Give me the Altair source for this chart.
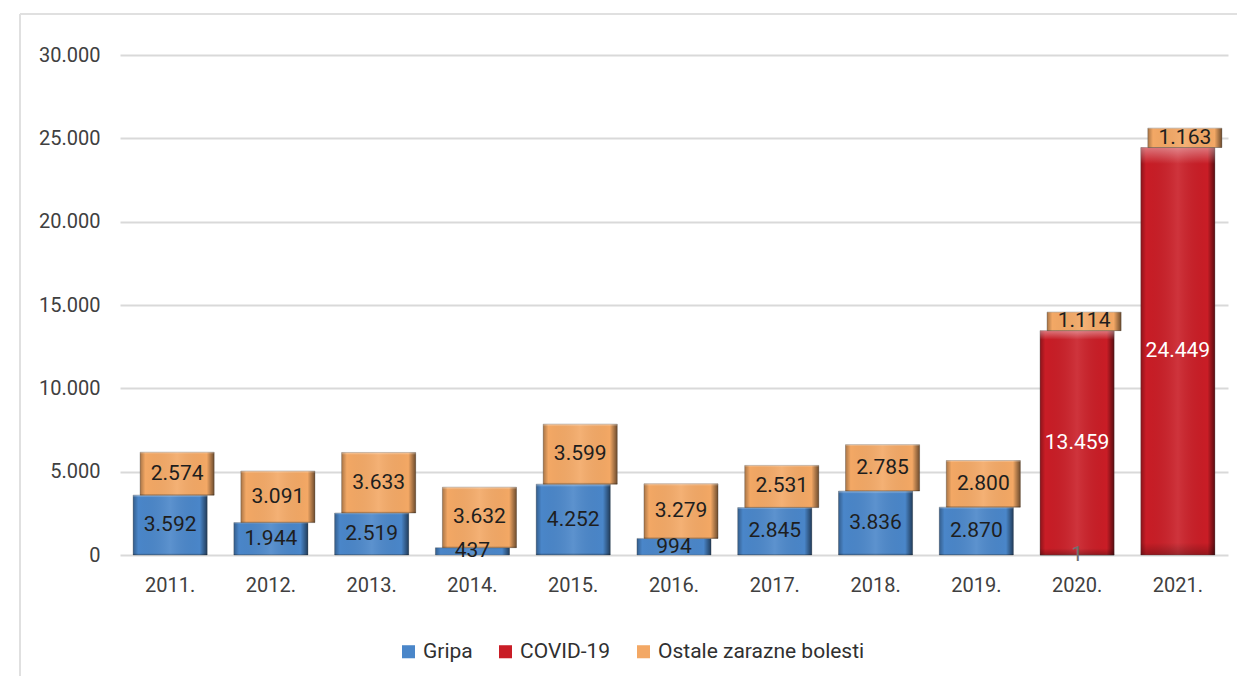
import altair as alt
import pandas as pd

years = ["2011.", "2012.", "2013.", "2014.", "2015.", "2016.", "2017.", "2018.", "2019.", "2020.", "2021."]
gripa = [3592, 1944, 2519, 437, 4252, 994, 2845, 3836, 2870, 1, 0]
covid = [0, 0, 0, 0, 0, 0, 0, 0, 0, 13459, 24449]
ostale = [2574, 3091, 3633, 3632, 3599, 3279, 2531, 2785, 2800, 1114, 1163]

series_names = ["Gripa", "COVID-19", "Ostale zarazne bolesti"]
series_colors = ["#4a86c9", "#c91d26", "#f3a865"]
label_colors = ["#1e1e1e", "white", "#1e1e1e"]

rows = []
for i, y in enumerate(years):
    base = 0
    for name, vals in zip(series_names, [gripa, covid, ostale]):
        v = vals[i]
        if v > 0:
            rows.append({
                "year": y, "series": name, "value": v,
                "start": base, "end": base + v, "mid": base + v / 2,
                "label": f"{v:,}".replace(",", "."),
            })
        base += v
df = pd.DataFrame(rows)

FONT = "Roboto"
xscale = alt.Scale(paddingInner=0.265, paddingOuter=0.13)
xenc = alt.X("year:N", sort=years, scale=xscale,
             axis=alt.Axis(title=None, labelAngle=0, labelFontSize=20, labelColor="#404040",
                           labelFont=FONT, ticks=False, domain=False, labelPadding=20, grid=False))
yenc = alt.Y("start:Q", scale=alt.Scale(domain=[0, 30000]),
             axis=alt.Axis(title=None, values=[0, 5000, 10000, 15000, 20000, 25000, 30000],
                           labelExpr="replace(format(datum.value, ','), ',', '.')",
                           labelFontSize=20, labelColor="#404040", labelFont=FONT,
                           ticks=False, domain=False, gridColor="#d9d9d9", gridWidth=2,
                           labelPadding=20))
color = alt.Color("series:N", scale=alt.Scale(domain=series_names, range=series_colors),
                  legend=alt.Legend(title=None, orient="none", direction="horizontal",
                                    legendX=278, legendY=586,
                                    symbolType="square", symbolSize=170, symbolStrokeWidth=0,
                                    labelFontSize=21, labelColor="#303030", labelFont=FONT,
                                    labelLimit=400, columnPadding=22, symbolOpacity=1))

side_grad = {"gradient": "linear", "x1": 0, "y1": 0, "x2": 1, "y2": 0,
             "stops": [{"offset": 0, "color": "rgba(0,0,0,0.30)"},
                       {"offset": 0.07, "color": "rgba(0,0,0,0.0)"},
                       {"offset": 0.5, "color": "rgba(255,255,255,0.10)"},
                       {"offset": 0.90, "color": "rgba(0,0,0,0.0)"},
                       {"offset": 1, "color": "rgba(0,0,0,0.55)"}]}
top_grad = {"gradient": "linear", "x1": 0, "y1": 0, "x2": 0, "y2": 1,
            "stops": [{"offset": 0, "color": "rgba(255,255,255,0.40)"},
                      {"offset": 0.04, "color": "rgba(255,255,255,0.0)"},
                      {"offset": 0.97, "color": "rgba(0,0,0,0.0)"},
                      {"offset": 1, "color": "rgba(0,0,0,0.25)"}]}

bar_layers = []
text_layers = []
for name, off, lc in zip(series_names, [0, 0, 7], label_colors):
    sub = alt.Chart(df).transform_filter(alt.datum.series == name)
    bar_layers.append(sub.mark_bar(xOffset=off, stroke="#555555", strokeWidth=0.6, strokeOpacity=0.6)
                      .encode(x=xenc, y=yenc, y2="end:Q", color=color))
    bar_layers.append(sub.mark_bar(xOffset=off, fill=side_grad).encode(x=xenc, y=yenc, y2="end:Q"))
    bar_layers.append(sub.mark_bar(xOffset=off, fill=top_grad).encode(x=xenc, y=yenc, y2="end:Q"))
    text_layers.append(sub.mark_text(xOffset=off, fontSize=21, font=FONT, baseline="middle")
                       .encode(x=xenc, y=alt.Y("mid:Q"), text="label:N",
                               color=alt.condition(alt.datum.value < 10, alt.value("#707070"),
                                                   alt.value(lc))))

frame_left = alt.Chart(df).mark_rule(color="#e0e0e0", strokeWidth=2).encode(
    x=alt.value(-100), y=alt.value(-41), y2=alt.value(700))
frame_top = alt.Chart(df).mark_rule(color="#e0e0e0", strokeWidth=2).encode(
    x=alt.value(-100), x2=alt.value(1200), y=alt.value(-41))

chart = alt.layer(frame_left, frame_top, *bar_layers, *text_layers).properties(
    width=1108, height=500, background="white",
    autosize=alt.AutoSizeParams(type="none"),
    padding={"left": 112, "top": 47, "right": 9, "bottom": 121},
).configure_view(strokeWidth=0, stroke=None)

chart.save("out.html", embed_options={"renderer": "svg", "actions": False})
